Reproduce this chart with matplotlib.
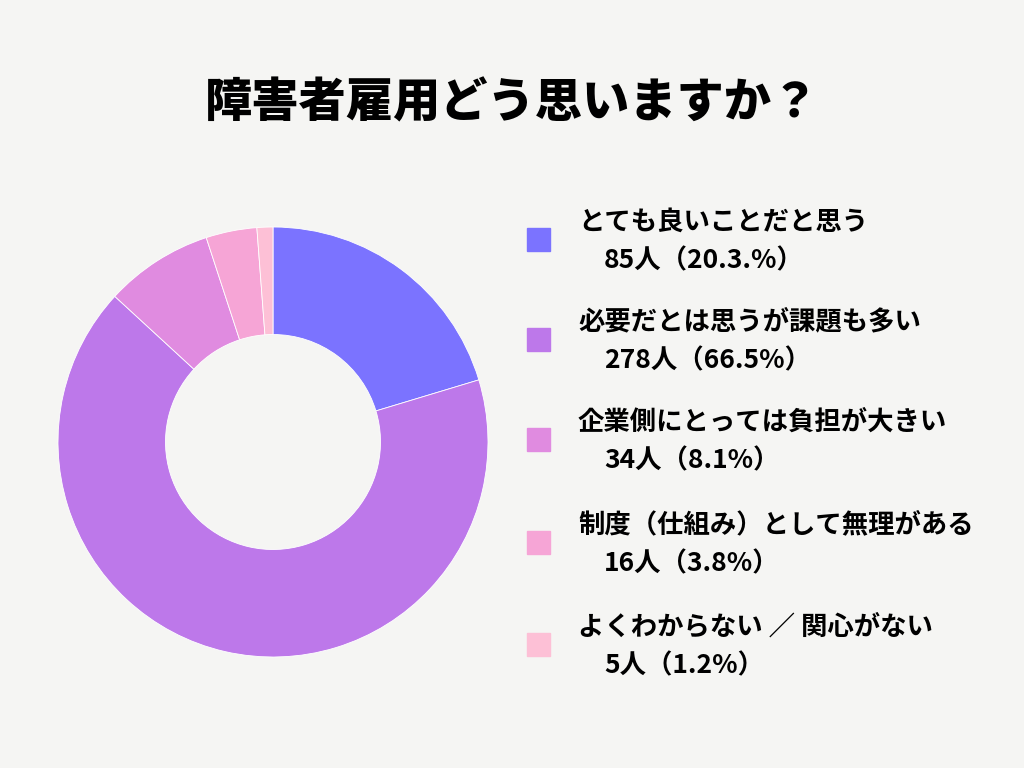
import matplotlib
matplotlib.use("Agg")
import matplotlib.pyplot as plt
from matplotlib.patches import Rectangle

FONT = "Noto Sans CJK JP"
labels = ["とても良いことだと思う", "必要だとは思うが課題も多い", "企業側にとっては負担が大きい",
          "制度（仕組み）として無理がある", "よくわからない ／ 関心がない"]
counts = [85, 278, 34, 16, 5]
pcts = ["20.3.%", "66.5%", "8.1%", "3.8%", "1.2%"]
colors = ["#7B73FF", "#BD78EA", "#E08BE0", "#F6A5D6", "#FDC0D6"]
BG = "#F5F5F3"

fig = plt.figure(figsize=(10.24, 7.68), dpi=100, facecolor=BG)
W, H = 1024, 768

ax = fig.add_axes([(273 - 215) / W, 1 - (442 + 215) / H, 430 / W, 430 / H])
ax.pie(counts, colors=colors, startangle=90, counterclock=False,
       wedgeprops=dict(width=0.5, edgecolor="white", linewidth=0.6))
ax.set_xlim(-1, 1)
ax.set_ylim(-1, 1)
ax.set_aspect("equal")

fig.text(0.5, 1 - 103 / H, "障害者雇用どう思いますか？", ha="center", va="center",
         fontsize=34, fontweight="black", family=FONT, color="black")

ys = [240, 340, 440, 543, 645]
for y, lab, c, n, p in zip(ys, labels, colors, counts, pcts):
    fig.patches.append(Rectangle((527 / W, 1 - (y + 11) / H), 23 / W, 23 / H,
                                 transform=fig.transFigure, color=c))
    fig.text(578 / W, 1 - (y - 18) / H, lab, ha="left", va="center",
             fontsize=19, fontweight="bold", family=FONT)
    fig.text(604 / W, 1 - (y + 21) / H, f"{n}人（{p}）", ha="left", va="center",
             fontsize=19, fontweight="bold", family=FONT)

fig.savefig("out.png", dpi=100, facecolor=BG)
